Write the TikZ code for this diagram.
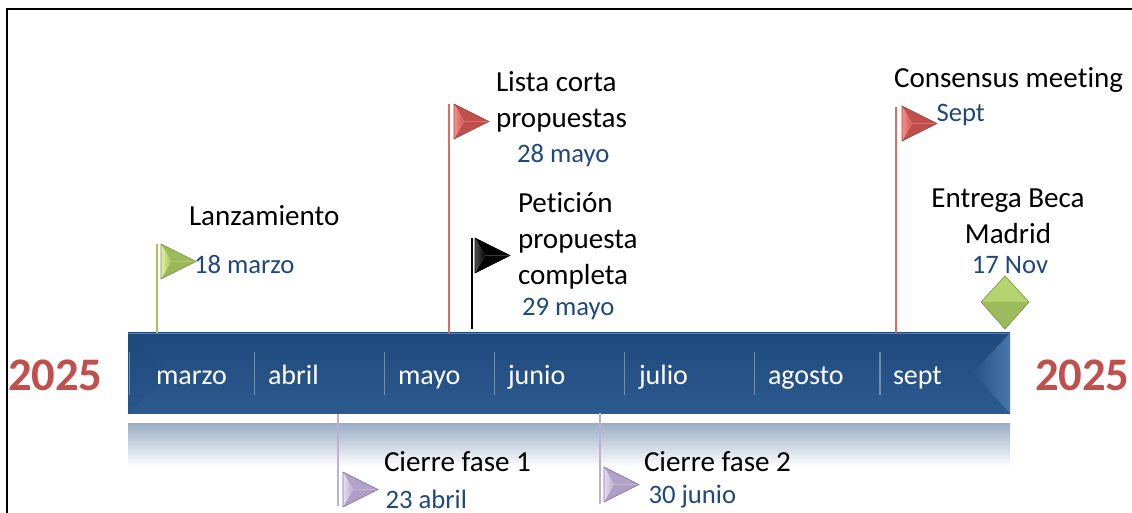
\documentclass[tikz,border=0pt]{standalone}
\usepackage{fontspec}
\setmainfont[Ligatures=NoCommon]{Carlito}
\definecolor{datecol}{HTML}{1F497D}
\definecolor{yearcol}{HTML}{C0504D}
\definecolor{barTop}{HTML}{1F497D}
\definecolor{barBot}{HTML}{2C5A8F}
\definecolor{grLine}{HTML}{A6C35F}
\definecolor{reLine}{HTML}{DB6B68}
\definecolor{puLine}{HTML}{BFAFD4}
\definecolor{grL}{HTML}{DDF59A}\definecolor{grM}{HTML}{A3C163}\definecolor{grT}{HTML}{9DBB5C}\definecolor{grB}{HTML}{9AB859}\definecolor{grE}{HTML}{6F8A3A}
\definecolor{reL}{HTML}{FA8F8B}\definecolor{reM}{HTML}{C65652}\definecolor{reT}{HTML}{C0504D}\definecolor{reB}{HTML}{BE4F4C}\definecolor{reE}{HTML}{93403D}
\definecolor{bkL}{HTML}{505050}\definecolor{bkM}{HTML}{000000}\definecolor{bkT}{HTML}{000000}\definecolor{bkB}{HTML}{000000}\definecolor{bkE}{HTML}{000000}
\definecolor{puL}{HTML}{E8DDF8}\definecolor{puM}{HTML}{B9A8CD}\definecolor{puT}{HTML}{B3A2C7}\definecolor{puB}{HTML}{B09FC4}\definecolor{puE}{HTML}{7F6E96}
\definecolor{diaT}{HTML}{B5D36E}\definecolor{diaB}{HTML}{9DBB5C}
\definecolor{bevR}{HTML}{265285}\definecolor{bevRb}{HTML}{4877AD}
\tikzset{
  x=0.75pt,y=-0.75pt,
  lbl/.style={inner sep=0pt,outer sep=0pt,font=\fontsize{21.8}{27}\selectfont,text=black,align=left},
  lblc/.style={lbl,align=center},
  datel/.style={inner sep=0pt,outer sep=0pt,font=\fontsize{20}{24}\selectfont,text=datecol},
  month/.style={inner sep=0pt,outer sep=0pt,anchor=base west,font=\fontsize{21}{25}\selectfont,text=white},
  yearl/.style={inner sep=0pt,outer sep=0pt,anchor=base west,font=\fontsize{35}{40}\selectfont\bfseries,text=yearcol},
  pole/.style={line width=1.5pt},
  sepl/.style={line width=1pt,draw=white,draw opacity=0.35},
}
% \flagtri{x}{y}{palette}: x,y = upper left corner of a 35x35 pennant
\newcommand{\flagtri}[3]{%
  \begin{scope}[shift={(#1,#2)}]
    \fill[#3T] (0,0) -- (35,17.5) -- (10,17.5) -- cycle;
    \fill[#3B] (0,35) -- (35,17.5) -- (10,17.5) -- cycle;
    \shade[left color=#3L,right color=#3M] (0,0) -- (10,17.5) -- (0,35) -- cycle;
    \draw[#3E,line width=0.4pt] (0,0) -- (35,17.5) -- (0,35) -- cycle;
  \end{scope}}
\begin{document}
\begin{tikzpicture}
\useasboundingbox (0,0) rectangle (1132,513);
\fill[white] (0,0) rectangle (1132,513);
\coordinate (bl) at (7,513); \coordinate (tl) at (7,9); \coordinate (tr) at (1132,9);
\draw[black,line width=1.5pt] (bl) -- (tl) -- (tr);

% reflection
\shade[top color=datecol!45,bottom color=white] (128,423) rectangle (1010,467);
% bar
\shade[top color=barTop,bottom color=barBot] (128,333) rectangle (1010,413);
\fill[barTop,opacity=.2] (128,333) -- (168,373) -- (128,413) -- cycle;
\shade[left color=bevR,right color=bevRb] (1010,333) -- (973,373) -- (1010,413) -- cycle;
\draw[barTop!70!white,line width=.5pt] (128,333) -- (1010,333);
\foreach \sx in {129.5,254.5,384.5,494.5,624.5,754.5,880}{\draw[sepl] (\sx,352) -- (\sx,395);}
\node[month] (m1) at (156,384.5) {marzo};
\node[month] (m2) at (268,384.5) {abril};
\node[month] (m3) at (398,384.5) {mayo};
\node[month] (m4) at (508,384.5) {junio};
\node[month] (m5) at (639,384.5) {julio};
\node[month] (m6) at (768,384.5) {agosto};
\node[month] (m7) at (893,384.5) {sept};

\node[yearl] (y1) at (8,391) {2025};
\node[yearl] (y2) at (1035,391) {2025};

% poles
\coordinate (g0) at (157,333); \coordinate (g1) at (157,244);
\coordinate (r0) at (448.5,333); \coordinate (r1) at (448.5,104);
\coordinate (k0) at (472,329); \coordinate (k1) at (472,238);
\coordinate (s0) at (896,333); \coordinate (s1) at (896,107);
\coordinate (p0) at (337.5,414); \coordinate (p1) at (337.5,506);
\coordinate (q0) at (600,413); \coordinate (q1) at (600,504);
\draw[pole,grLine] (g0) -- (g1);
\draw[pole,reLine] (r0) -- (r1);
\draw[pole,black] (k0) -- (k1);
\draw[pole,reLine] (s0) -- (s1);
\draw[pole,puLine] (p0) -- (p1);
\draw[pole,puLine] (q0) -- (q1);

% flags
\flagtri{161}{244}{gr}
\flagtri{454}{104}{re}
\flagtri{475}{238}{bk}
\flagtri{902}{106}{re}
\flagtri{343}{472}{pu}
\flagtri{604}{467}{pu}

% diamond
\coordinate (dl) at (981,302); \coordinate (dt) at (1005,276); \coordinate (dr) at (1029,302); \coordinate (db) at (1005,329);
\coordinate (dc) at (1005,302);
\fill[diaT] (dl) -- (dt) -- (dc) -- cycle;
\fill[diaT] (dr) -- (dt) -- (dc) -- cycle;
\fill[diaB] (dl) -- (db) -- (dc) -- cycle;
\fill[diaB] (dr) -- (db) -- (dc) -- cycle;
\draw[grE,line width=.4pt] (dl) -- (dt) -- (dr) -- (db) -- cycle;

% labels
\node[lbl,anchor=base west] (t1) at (189,226) {Lanzamiento};
\node[datel,anchor=base west] (d1) at (194,274) {18 marzo};
\node[lbl,anchor=north west] (t2) at (496,72) {Lista corta\\propuestas};
\node[datel,anchor=base west] (d2) at (517,163) {28 mayo};
\node[lbl,anchor=north west] (t3) at (518,192.5) {Petición\\propuesta\\completa};
\node[datel,anchor=base west] (d3) at (522,316) {29 mayo};
\node[lbl,anchor=base west] (t4) at (894,88) {Consensus meeting};
\node[datel,anchor=base west] (d4) at (936.5,122) {Sept};
\node[lblc,anchor=north] (t5) at (1008,189) {Entrega Beca\\Madrid};
\node[datel,anchor=base] (d5) at (1010,274) {17 Nov};
\node[lbl,anchor=base west] (t6) at (384,471) {Cierre fase 1};
\node[datel,anchor=base west] (d6) at (385.5,508) {23 abril};
\node[lbl,anchor=base west] (t7) at (644,471) {Cierre fase 2};
\node[datel,anchor=base west] (d7) at (648.5,503) {30 junio};
\end{tikzpicture}
\end{document}
